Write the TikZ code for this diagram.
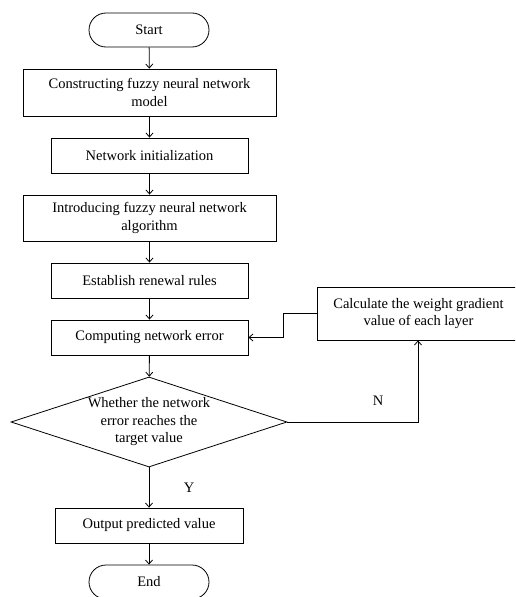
\documentclass[tikz,border=0pt]{standalone}
\usepackage{fontspec}
\setmainfont{Liberation Serif}
\usetikzlibrary{shapes.geometric,arrows.meta}

\tikzset{
  x=1pt, y=-1pt,
  every node/.style={font=\fontsize{14.5}{17.5}\selectfont, align=center, inner sep=0pt},
  stepbox/.style={draw, line width=0.8pt, rectangle},
  widebox/.style={stepbox, minimum width=253pt},
  narrowbox/.style={stepbox, minimum width=197pt, minimum height=35pt},
  terminal/.style={draw, line width=0.8pt, rectangle, rounded corners=17pt,
                   minimum width=120pt, minimum height=34pt},
  decision/.style={draw, line width=0.8pt, diamond, aspect=3.07, inner sep=-3pt,
                   minimum width=276pt, minimum height=90pt},
  flow/.style={draw, line width=0.8pt, -{Straight Barb[length=4pt,width=7pt]}},
  tag/.style={font=\fontsize{14.5}{17.5}\selectfont}
}

\begin{document}
\begin{tikzpicture}
  \useasboundingbox (0,0) rectangle (515,597);
  \clip (0,0) rectangle (515,597);

  % main column
  \node[terminal] (start) at (149,30) {Start};
  \node[widebox, minimum height=47pt] (b1) at (149.5,92.5)
    {Constructing fuzzy neural network\\model};
  \node[narrowbox] (b2) at (149.5,155.5) {Network initialization};
  \node[widebox, minimum height=46pt] (b3) at (149.5,218)
    {Introducing fuzzy neural network\\algorithm};
  \node[narrowbox] (b4) at (149.5,280.5) {Establish renewal rules};
  \node[narrowbox] (b5) at (149.5,337.5) {Computing network error};
  \node[decision] (dec) at (149,422)
    {Whether the network\\error reaches the\\target value};
  \node[narrowbox, minimum width=188pt] (out) at (149,525.5) {Output predicted value};
  \node[terminal] (end) at (149,582) {End};

  % feedback branch
  \node[stepbox, minimum width=203pt, minimum height=53pt] (grad) at (418.5,313.5)
    {Calculate the weight gradient\\value of each layer};
  \coordinate (elbow) at (283,313.5);
  \coordinate (up) at (418,422);

  % connectors
  \draw[flow] (start) -- (b1);
  \draw[flow] (b1) -- (b2);
  \draw[flow] (b2) -- (b3);
  \draw[flow] (b3) -- (b4);
  \draw[flow] (b4) -- (b5);
  \draw[flow] (b5) -- (dec);
  \draw[flow] (dec) -- (out);
  \draw[flow] (out) -- (end);
  \draw[flow] (dec.east) -- (up) -- (up |- grad.south);
  \draw[flow] (grad.west) -- (elbow) |- (b5.east);

  % branch labels
  \node[tag] (nlabel) at (378,401) {N};
  \node[tag] (ylabel) at (189,488) {Y};
\end{tikzpicture}
\end{document}
